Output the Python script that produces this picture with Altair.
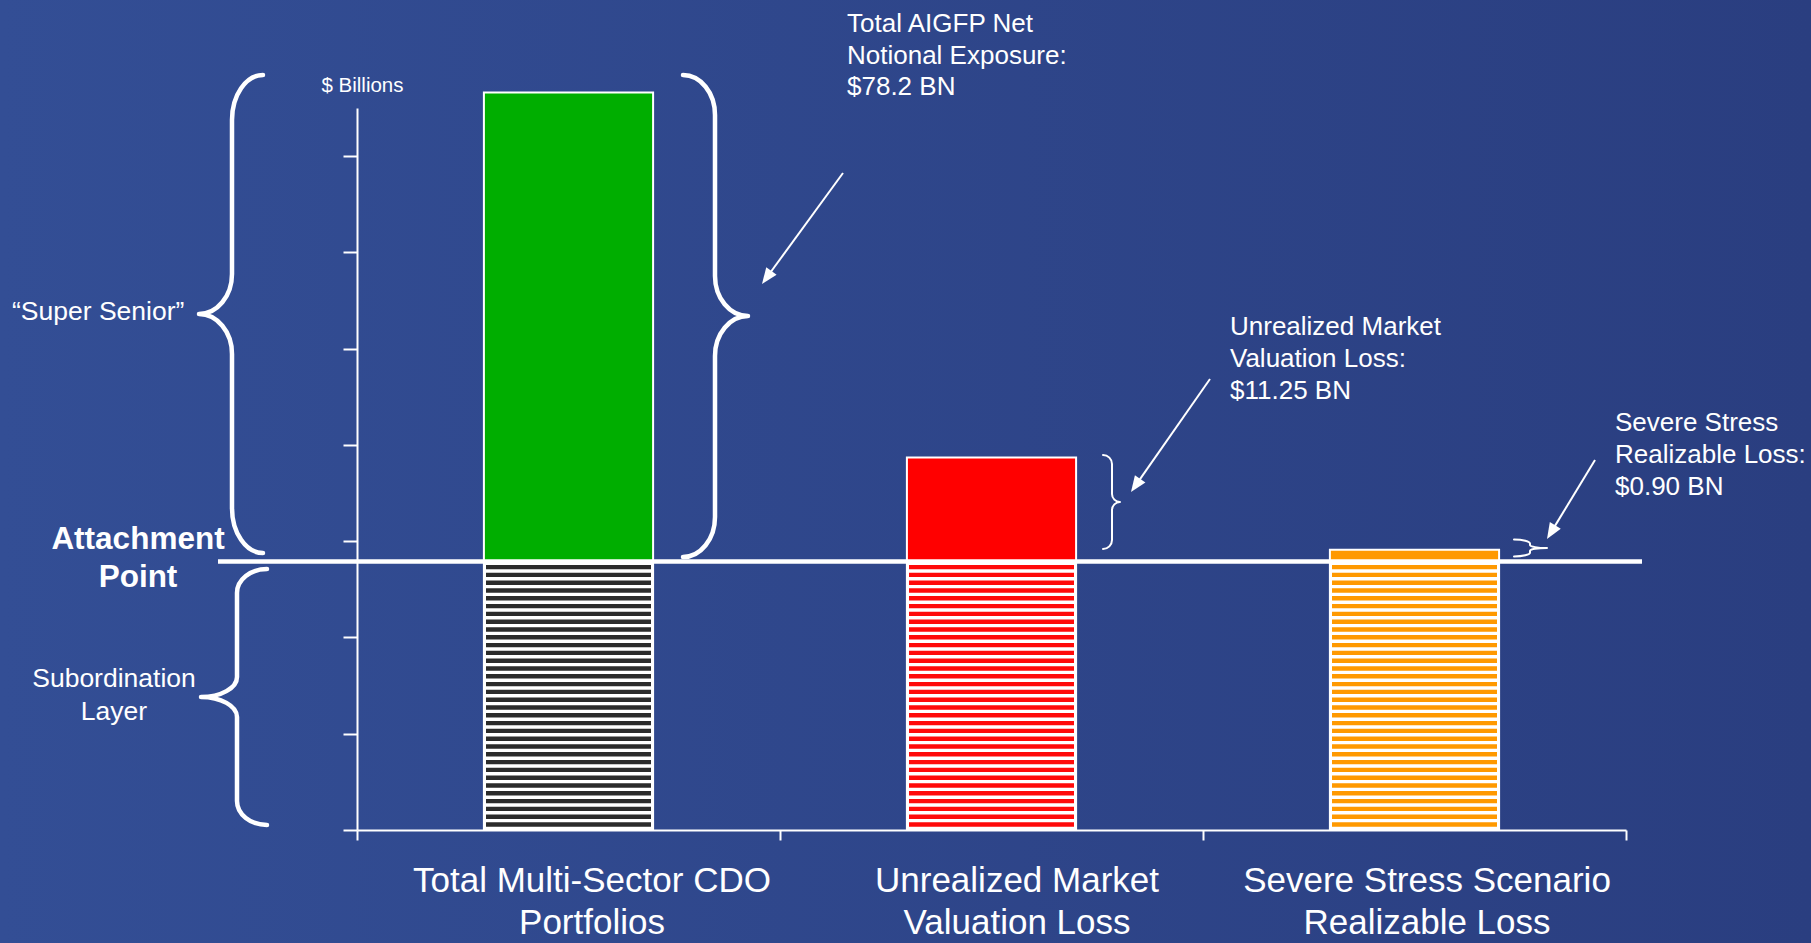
import math
import altair as alt
import pandas as pd

# ---------------- data (schematic units, y ticks every 10) ----------------
categories = ["Total Multi-Sector CDO|Portfolios",
              "Unrealized Market|Valuation Loss",
              "Severe Stress Scenario|Realizable Loss"]
attachment_point = [27.9, 27.9, 27.9]      # top of the striped subordination layer
bar_tops = [76.6, 38.7, 29.1]              # top of each coloured segment
y_ticks = [0, 10, 20, 30, 40, 50, 60, 70]
y_max = 75

callouts = ["Total AIGFP Net\nNotional Exposure:\n$78.2 BN",
            "Unrealized Market\nValuation Loss:\n$11.25 BN",
            "Severe Stress\nRealizable Loss:\n$0.90 BN"]
side_labels = ["\u201cSuper Senior\u201d", "Attachment\nPoint", "Subordination\nLayer"]
y_title = "$ Billions"

# ---------------- styles / layout ----------------
FONT = "Liberation Sans"
TOP_COLORS = ["#00AE00", "#FF0000", "#FF9900"]
STRIPE_COLORS = ["#2B2B2B", "#FF0A0A", "#FF9900"]
W, H = 1269, 722
PAD_L, PAD_T = 357, 108
TOTAL_W, TOTAL_H = 1811, 943


def px(x):
    return x - PAD_L


def py(y):
    return y - PAD_T


one = pd.DataFrame({"k": [0]})

bars_df = pd.DataFrame({
    "category": categories,
    "base": [0] * len(categories),
    "attach": attachment_point,
    "top": bar_tops,
})

x_scale = alt.Scale(domain=categories, paddingInner=0, paddingOuter=0)
y_scale = alt.Scale(domain=[0, y_max], nice=False, zero=True)

label_offset = {
    "condition": [
        {"test": f"datum.value == '{categories[0]}'", "value": 23},
        {"test": f"datum.value == '{categories[1]}'", "value": 25},
    ],
    "value": 12,
}

x_axis = alt.Axis(title=None, labelExpr="split(datum.label, '|')", labelAngle=0,
                  labelFontSize=35, labelLineHeight=42, labelColor="white", labelFont=FONT,
                  labelBaseline="alphabetic", labelPadding=51, labelAlign="center",
                  labelLimit=800, labelOverlap=False, labelOffset=label_offset,
                  tickBand="extent", tickSize=10, tickColor="white", tickWidth=2,
                  domainColor="white", domainWidth=2, grid=False, zindex=1)
y_axis = alt.Axis(values=y_ticks, labels=False, tickSize=14, tickWidth=2, tickColor="white",
                  domainColor="white", domainWidth=2, grid=False,
                  title=y_title, titleAngle=0, titleAlign="center", titleBaseline="alphabetic",
                  titleX=5, titleY=-17, titleFontSize=20.5, titleFontWeight="normal",
                  titleColor="white", titleFont=FONT, zindex=1)

X = alt.X("category:N", scale=x_scale, axis=x_axis)

# background gradient
bg = alt.Chart(one).mark_rect(
    fill=alt.LinearGradient(gradient="linear",
                            stops=[alt.GradientStop(color="#334E95", offset=0),
                                   alt.GradientStop(color="#2A3E80", offset=1)],
                            x1=0, x2=1, y1=0, y2=0),
    strokeWidth=0,
).encode(x=alt.value(-PAD_L), x2=alt.value(TOTAL_W - PAD_L),
         y=alt.value(-PAD_T), y2=alt.value(TOTAL_H - PAD_T))

base = alt.Chart(bars_df)

lower = base.mark_bar(width=alt.RelativeBandSize(0.4), fill="white", stroke="white",
                      strokeWidth=2).encode(
    x=X,
    y=alt.Y("base:Q", scale=y_scale, axis=y_axis),
    y2="attach:Q",
)

stripes = base.mark_rule(strokeWidth=165, strokeDash=[4.4, 3.4], strokeCap="butt",
                         yOffset=3.5, y2Offset=-1).encode(
    x=X,
    y=alt.Y("attach:Q", scale=y_scale, axis=y_axis),
    y2="base:Q",
    stroke=alt.Stroke("category:N", scale=alt.Scale(domain=categories, range=STRIPE_COLORS),
                      legend=None),
)

upper = base.mark_bar(width=alt.RelativeBandSize(0.4), stroke="white", strokeWidth=2).encode(
    x=X,
    y=alt.Y("attach:Q", scale=y_scale, axis=y_axis),
    y2="top:Q",
    fill=alt.Fill("category:N", scale=alt.Scale(domain=categories, range=TOP_COLORS),
                  legend=None),
)

attach_line = alt.Chart(pd.DataFrame({"attach": [attachment_point[0]]})).mark_rule(
    color="white", strokeWidth=4.5).encode(
    y=alt.Y("attach:Q", scale=y_scale, axis=y_axis),
    x=alt.value(px(218)), x2=alt.value(px(1642)),
)


# ---------------- curly braces (custom symbol paths) ----------------
def brace_path(h, e, t, c1, c2, side):
    r = float(h)
    k = 0.448

    def p(x, y):
        return f"{side * x / r:.4f},{y / r:.4f}"

    return " ".join([
        f"M{p(e, -h)}",
        f"C{p(k * e, -h)} {p(0, -h + k * c1)} {p(0, -h + c1)}",
        f"L{p(0, -c2)}",
        f"C{p(0, -k * c2)} {p(-k * t, 0)} {p(-t, 0)}",
        f"C{p(-k * t, 0)} {p(0, k * c2)} {p(0, c2)}",
        f"L{p(0, h - c1)}",
        f"C{p(0, h - k * c1)} {p(k * e, h)} {p(e, h)}",
    ])


BRACES = [
    dict(x=232, yc=314, h=239, e=31, t=33, c1=45, c2=40, side=1, sw=4.5),
    dict(x=715, yc=316, h=241, e=32, t=33, c1=40, c2=40, side=-1, sw=4.5),
    dict(x=237, yc=697, h=128, e=30, t=36, c1=24, c2=20, side=1, sw=4.5),
    dict(x=1112, yc=502, h=47, e=9, t=8, c1=9, c2=8, side=-1, sw=2),
    dict(x=1530, yc=548, h=8.5, e=16, t=17, c1=4, c2=3, side=-1, sw=2),
]
brace_layers = []
for b in BRACES:
    brace_layers.append(
        alt.Chart(one).mark_point(
            shape=brace_path(b["h"], b["e"], b["t"], b["c1"], b["c2"], b["side"]),
            filled=False, color="white", strokeWidth=b["sw"], opacity=1,
            size=(2 * b["h"]) ** 2, strokeCap="round", strokeJoin="round",
        ).encode(x=alt.value(px(b["x"])), y=alt.value(py(b["yc"])))
    )

# ---------------- arrows ----------------
ARROWS = [((843, 173), (762, 284)), ((1210, 379), (1131, 492)), ((1595, 460), (1547, 539))]
HEAD = 16
arrow_layers = []
for (x0, y0), (x1, y1) in ARROWS:
    dx, dy = x1 - x0, y1 - y0
    L = math.hypot(dx, dy)
    ang = math.degrees(math.atan2(dx, -dy)) % 360
    ex, ey = x1 - dx / L * (HEAD - 3), y1 - dy / L * (HEAD - 3)
    arrow_layers.append(
        alt.Chart(one).mark_rule(color="white", strokeWidth=2).encode(
            x=alt.value(px(x0)), y=alt.value(py(y0)), x2=alt.value(px(ex)), y2=alt.value(py(ey)))
    )
    arrow_layers.append(
        alt.Chart(one).mark_point(shape="M0,0 L0.4,1 L-0.4,1 Z", filled=True, color="white",
                                  opacity=1, size=(2 * HEAD) ** 2, angle=ang, strokeWidth=0).encode(
            x=alt.value(px(x1)), y=alt.value(py(y1)))
    )

# ---------------- texts ----------------
TEXTS = [
    (callouts[0], 847, 32, "left", 26, "normal", 31.5),
    (callouts[1], 1230, 335, "left", 26, "normal", 32),
    (callouts[2], 1615, 431, "left", 26, "normal", 32),
    (side_labels[0], 12, 320, "left", 26.5, "normal", 32),
    (side_labels[1], 138, 549, "center", 31.5, "bold", 38),
    (side_labels[2], 114, 687, "center", 26.5, "normal", 33),
]
text_layers = []
for txt, x, y, align, fs, fw, lh in TEXTS:
    text_layers.append(
        alt.Chart(pd.DataFrame({"t": [txt]})).mark_text(
            align=align, baseline="alphabetic", font=FONT, fontSize=fs, fontWeight=fw,
            lineBreak="\n", lineHeight=lh, color="white",
        ).encode(text="t:N", x=alt.value(px(x)), y=alt.value(py(y)))
    )

chart = alt.layer(
    bg, lower, stripes, upper, attach_line, *brace_layers, *arrow_layers, *text_layers
).properties(
    width=W, height=H,
    padding={"left": PAD_L, "top": PAD_T, "right": TOTAL_W - PAD_L - W,
             "bottom": TOTAL_H - PAD_T - H},
    autosize=alt.AutoSizeParams(type="none"),
    background="#2F4689",
).configure_view(stroke=None)

chart.save("out.html", embed_options={"renderer": "svg", "actions": False})
